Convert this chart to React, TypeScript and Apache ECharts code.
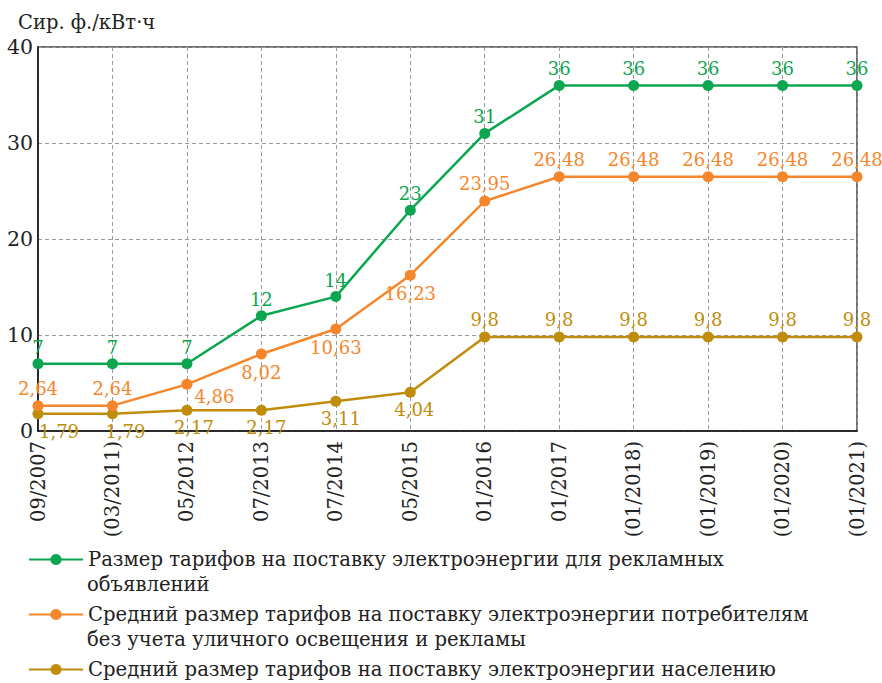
import React, { useEffect, useRef } from "react";
import * as echarts from "echarts";

const categories = [
  "09/2007", "(03/2011)", "05/2012", "07/2013", "07/2014", "05/2015",
  "01/2016", "01/2017", "(01/2018)", "(01/2019)", "(01/2020)", "(01/2021)",
];
const adsTariff = [7, 7, 7, 12, 14, 23, 31, 36, 36, 36, 36, 36];
const avgTariff = [2.64, 2.64, 4.86, 8.02, 10.63, 16.23, 23.95, 26.48, 26.48, 26.48, 26.48, 26.48];
const popTariff = [1.79, 1.79, 2.17, 2.17, 3.11, 4.04, 9.8, 9.8, 9.8, 9.8, 9.8, 9.8];
const yTicks = [0, 10, 20, 30, 40];

const nameAds = "Размер тарифов на поставку электроэнергии для рекламных";
const nameAdsLine2 = "объявлений";
const nameAvg = "Средний размер тарифов на поставку электроэнергии потребителям";
const nameAvgLine2 = "без учета уличного освещения и рекламы";
const namePop = "Средний размер тарифов на поставку электроэнергии населению";
const unitTitle = "Сир. ф./кВт·ч";

// label placement (styling only)
const avgLabelPos = ["top", "top", "right", "bottom", "bottom", "bottom", "top", "top", "top", "top", "top", "top"];
const popLabelPos = ["bottom", "bottom", "bottom", "bottom", "bottom", "bottom", "top", "top", "top", "top", "top", "top"];
const popLabelShift = [21, 13, 7, 5, 5, 4, 0, 0, 0, 0, 0, 0];

const FONT = "DejaVu Serif";
const GREEN = "#0ca550";
const ORANGE = "#f5862b";
const GOLD = "#bf8c0c";
const TEXT = "#222";

const fmt = (v: number) => String(v).replace(".", ",");

export default function App() {
  const ref = useRef<HTMLDivElement>(null);
  useEffect(() => {
    if (!ref.current) return;
    const chart = echarts.init(ref.current, null, { renderer: "svg" });

    const labelBase = {
      show: true,
      fontFamily: FONT,
      fontSize: 18,
      distance: 3,
      formatter: (p: any) => fmt(p.value),
    };

    const avgData = avgTariff.map((v, i) => {
      const pos = avgLabelPos[i];
      const lab: any = { position: pos };
      if (pos === "right") {
        lab.offset = [0, 12];
        lab.distance = 2;
      }
      if (pos === "bottom") lab.distance = 4;
      return { value: v, label: lab };
    });
    const popData = popTariff.map((v, i) => ({
      value: v,
      label: { position: popLabelPos[i], offset: [popLabelShift[i], 0] },
    }));

    const legendFont = { fontFamily: FONT, fontSize: 19.6, color: TEXT, lineHeight: 23 };
    const legendCommon = {
      orient: "vertical",
      left: 28,
      padding: 0,
      itemGap: 0,
      itemWidth: 54,
      itemHeight: 14,
      selectedMode: false,
      textStyle: legendFont,
    };
    const legendTextX = 28 + 54 + 5;

    chart.setOption({
      animation: false,
      backgroundColor: "#fff",
      title: {
        text: unitTitle,
        left: 13,
        top: 7,
        textStyle: { fontFamily: FONT, fontSize: 19.5, fontWeight: "normal", color: TEXT },
      },
      legend: [
        { ...legendCommon, top: 548, data: [nameAds] },
        { ...legendCommon, top: 603, data: [nameAvg] },
        { ...legendCommon, top: 658, data: [namePop] },
      ],
      graphic: [
        {
          type: "text",
          left: legendTextX,
          top: 573,
          style: { text: nameAdsLine2, ...legendFont, fill: TEXT },
        },
        {
          type: "text",
          left: legendTextX,
          top: 628,
          style: { text: nameAvgLine2, ...legendFont, fill: TEXT },
        },
      ],
      grid: {
        left: 38,
        right: 25,
        top: 47,
        bottom: 252,
        show: true,
        borderColor: "#444",
        borderWidth: 1.5,
      },
      xAxis: {
        type: "category",
        data: categories,
        boundaryGap: false,
        axisLine: { lineStyle: { color: "#111", width: 1.5 } },
        axisTick: { show: false },
        axisLabel: {
          rotate: 90,
          margin: 10,
          interval: 0,
          fontFamily: FONT,
          fontSize: 19.5,
          color: TEXT,
        },
        splitLine: { show: true, lineStyle: { color: "#999", type: [4, 3], width: 1 } },
      },
      yAxis: {
        type: "value",
        min: yTicks[0],
        max: yTicks[yTicks.length - 1],
        interval: 10,
        axisLine: { show: true, lineStyle: { color: "#111", width: 1.5 } },
        axisTick: { show: false },
        axisLabel: { margin: 5, fontFamily: FONT, fontSize: 20.5, color: TEXT },
        splitLine: { show: true, lineStyle: { color: "#999", type: [4, 3], width: 1 } },
      },
      series: [
        {
          name: nameAds,
          type: "line",
          data: adsTariff,
          color: GREEN,
          symbol: "circle",
          symbolSize: 11,
          lineStyle: { width: 2.5, color: GREEN },
          itemStyle: { color: GREEN },
          label: { ...labelBase, position: "top", color: GREEN, distance: 2 },
          z: 4,
        },
        {
          name: nameAvg,
          type: "line",
          data: avgData,
          color: ORANGE,
          symbol: "circle",
          symbolSize: 11,
          lineStyle: { width: 2.5, color: ORANGE },
          itemStyle: { color: ORANGE },
          label: { ...labelBase, color: ORANGE },
          z: 3,
        },
        {
          name: namePop,
          type: "line",
          data: popData,
          color: GOLD,
          symbol: "circle",
          symbolSize: 11,
          lineStyle: { width: 2.5, color: GOLD },
          itemStyle: { color: GOLD },
          label: { ...labelBase, color: GOLD },
          z: 2,
        },
      ],
    } as any);

    return () => chart.dispose();
  }, []);

  return (
    <div
      ref={ref}
      style={{ position: "fixed", left: 0, top: 0, width: 882, height: 683 }}
    />
  );
}
